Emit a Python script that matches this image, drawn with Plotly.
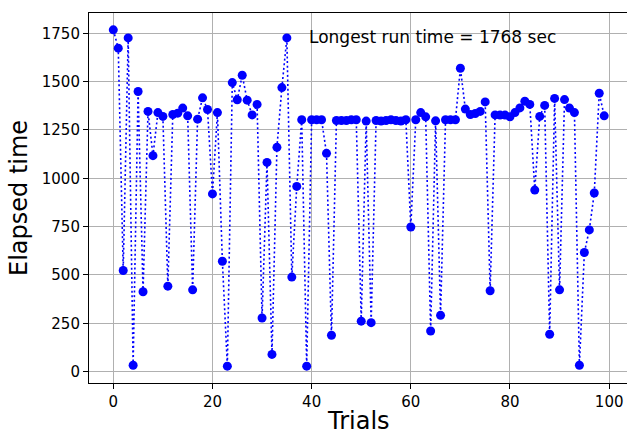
import plotly.graph_objects as go

trials = list(range(100))
elapsed = [
    1768, 1673, 523, 1726, 33, 1449, 413, 1346, 1117, 1340,
    1320, 442, 1330, 1337, 1363, 1323, 423, 1306, 1416, 1356,
    919, 1340, 571, 28, 1495, 1406, 1533, 1404, 1328, 1382,
    277, 1082, 89, 1160, 1469, 1726, 489, 958, 1303, 28,
    1303, 1303, 1303, 1129, 188, 1299, 1299, 1299, 1303, 1303,
    261, 1296, 253, 1299, 1296, 1299, 1303, 1299, 1296, 1303,
    748, 1303, 1340, 1318, 210, 1297, 291, 1303, 1303, 1303,
    1569, 1358, 1330, 1335, 1346, 1395, 418, 1328, 1327, 1327,
    1318, 1340, 1364, 1399, 1382, 939, 1320, 1377, 193, 1413,
    423, 1407, 1363, 1340, 33, 616, 733, 924, 1440, 1323,
]
x_ticks = [0, 20, 40, 60, 80, 100]
y_ticks = [0, 250, 500, 750, 1000, 1250, 1500, 1750]
note = "Longest run time = %d sec" % max(elapsed)
x_title = "Trials"
y_title = "Elapsed time"

FONT = "DejaVu Sans"

fig = go.Figure()
fig.add_trace(go.Scatter(
    x=trials, y=elapsed, mode="lines+markers",
    line=dict(color="#0000ff", width=1.6, dash="2px,2.6px"),
    marker=dict(color="#0000ff", size=9, line=dict(width=0)),
    showlegend=False, cliponaxis=False,
))

fig.add_annotation(
    x=39, y=1733, xref="x", yref="y", text=note, showarrow=False,
    xanchor="left", yanchor="middle",
    font=dict(family=FONT, size=17, color="#000000"),
)
fig.add_annotation(
    x=0.5, y=0, xref="paper", yref="paper", text=x_title, showarrow=False,
    xanchor="center", yanchor="bottom", yshift=-53, borderpad=0,
    font=dict(family=FONT, size=24, color="#000000"),
)
fig.add_annotation(
    x=0, y=0.5, xref="paper", yref="paper", text=y_title, showarrow=False,
    xanchor="center", yanchor="middle", xshift=-70, textangle=-90,
    font=dict(family=FONT, size=24, color="#000000"),
)

axis_common = dict(
    showgrid=True, gridcolor="#b0b0b0", gridwidth=1.1,
    showline=True, linecolor="#000000", linewidth=1.1,
    ticks="outside", ticklen=5, tickwidth=1.1, tickcolor="#000000",
    tickfont=dict(family=FONT, size=15, color="#000000"),
    zeroline=False, automargin=False,
)

fig.update_layout(
    width=627, height=437,
    margin=dict(l=89, r=0, t=13, b=54),
    paper_bgcolor="#ffffff", plot_bgcolor="#ffffff",
    font=dict(family=FONT, color="#000000"),
    xaxis=dict(range=[-4.9, 103.6], tickvals=x_ticks, mirror=True, **axis_common),
    yaxis=dict(range=[-59, 1855], tickvals=y_ticks, mirror=False, **axis_common),
)

fig.write_html(
    "out.html",
    config={"displayModeBar": False},
    post_script="document.body.style.margin='0';document.body.style.overflow='hidden';",
)
